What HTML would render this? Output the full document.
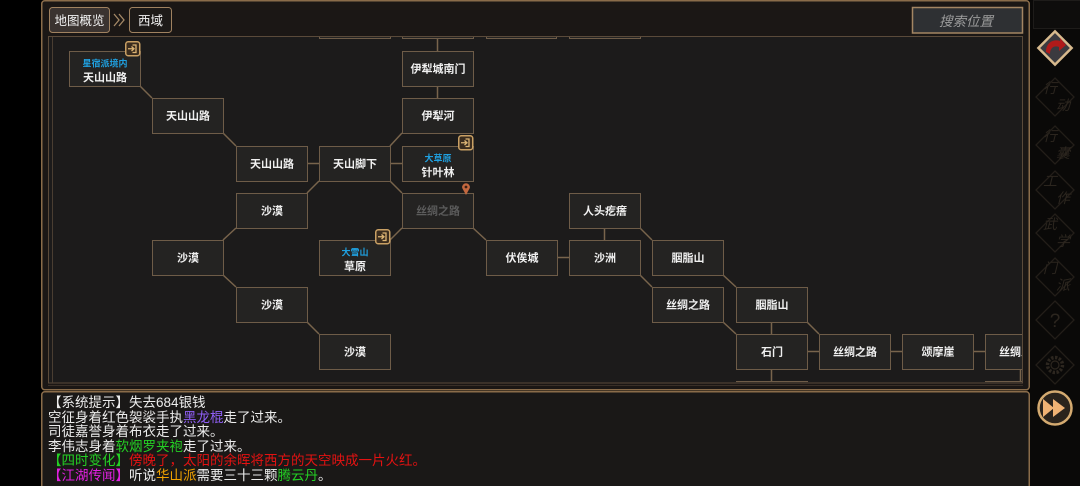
<!DOCTYPE html>
<html><head><meta charset="utf-8">
<style>
html,body{margin:0;padding:0;background:#000;}
body{width:1080px;height:486px;position:relative;overflow:hidden;font-family:"Liberation Sans","Noto Sans CJK SC",sans-serif;}
svg{position:absolute;left:0;top:0;}
#log{position:absolute;left:48px;top:396px;font-size:13.5px;line-height:14.6px;color:#ececec;white-space:nowrap;font-family:"Liberation Sans","Noto Sans CJK SC",sans-serif;}
.pu{color:#8f5ef5}.gr{color:#24d024}.rd{color:#e41212}.mg{color:#e020e0}.or{color:#f0a200}
</style></head><body>
<svg width="1080" height="486" viewBox="0 0 1080 486" xmlns="http://www.w3.org/2000/svg" font-family="Liberation Sans, Noto Sans CJK SC, sans-serif">
<defs>
<clipPath id="mc"><rect x="53" y="37" width="969" height="345"/></clipPath>
</defs>
<!-- main panel -->
<rect x="41.75" y="0.75" width="987.5" height="389" rx="3" fill="#1b1715" stroke="#8a6c4a" stroke-width="1.5"/>
<!-- header buttons -->
<rect x="49.5" y="7.5" width="60" height="25" rx="3" fill="#3a3330" stroke="#a08260" stroke-width="1"/>
<text x="79.5" y="24.8" font-size="12.5" fill="#f2f2f2" text-anchor="middle">地图概览</text>
<polyline points="114,14 119,20 114,26" fill="none" stroke="#a48866" stroke-width="1.3"/>
<polyline points="119,14 124,20 119,26" fill="none" stroke="#a48866" stroke-width="1.3"/>
<rect x="129.5" y="7.5" width="42" height="25" rx="3" fill="#1d1a18" stroke="#a08260" stroke-width="1"/>
<text x="150.5" y="24.8" font-size="12.5" fill="#f2f2f2" text-anchor="middle">西域</text>
<!-- search -->
<rect x="912.5" y="7.5" width="110" height="25.5" fill="#2e3033" stroke="#a38563" stroke-width="1.5"/>
<text x="966" y="26" font-size="13.5" fill="#9c9c9c" text-anchor="middle" font-style="italic">搜索位置</text>
<!-- map area -->
<rect x="48" y="37" width="975" height="346" fill="#1c1b1b"/>
<rect x="48.5" y="36.5" width="974" height="346.5" fill="none" stroke="#5a4a3a" stroke-width="1"/>
<line x1="52.5" y1="37" x2="52.5" y2="383" stroke="#4a3e32" stroke-width="1"/>
<line x1="48" y1="385.5" x2="1023" y2="385.5" stroke="#3a3028" stroke-width="1"/>

<g clip-path="url(#mc)">
<!-- connectors -->
<g stroke="#78644c" stroke-width="1.5" fill="none">
<line x1="140" y1="86" x2="152" y2="98"/>
<line x1="223" y1="133" x2="236" y2="146"/>
<line x1="390" y1="146" x2="402" y2="133"/>
<line x1="319" y1="181" x2="307" y2="193"/>
<line x1="390" y1="181" x2="402" y2="193"/>
<line x1="236" y1="228" x2="223" y2="240"/>
<line x1="223" y1="275" x2="236" y2="287"/>
<line x1="307" y1="322" x2="319" y2="334"/>
<line x1="402" y1="228" x2="390" y2="240"/>
<line x1="473" y1="228" x2="486" y2="240"/>
<line x1="640" y1="228" x2="652" y2="240"/>
<line x1="640" y1="275" x2="652" y2="287"/>
<line x1="723" y1="275" x2="736" y2="287"/>
<line x1="723" y1="322" x2="736" y2="334"/>
<line x1="807" y1="322" x2="819" y2="334"/>
<line x1="307" y1="163.5" x2="319" y2="163.5"/>
<line x1="390" y1="163.5" x2="402" y2="163.5"/>
<line x1="557" y1="257.5" x2="569" y2="257.5"/>
<line x1="807" y1="351.5" x2="819" y2="351.5"/>
<line x1="890" y1="351.5" x2="902" y2="351.5"/>
<line x1="973" y1="351.5" x2="985" y2="351.5"/>
<line x1="437.5" y1="37" x2="437.5" y2="51"/>
<line x1="437.5" y1="86" x2="437.5" y2="98"/>
<line x1="604.5" y1="228" x2="604.5" y2="240"/>
<line x1="771.5" y1="322" x2="771.5" y2="334"/>
<line x1="771.5" y1="369" x2="771.5" y2="381"/>
<line x1="1020.5" y1="369" x2="1020.5" y2="381"/>
</g>
<!-- nodes -->
<g fill="#242322" stroke="#6e5c48" stroke-width="1">
<rect x="319.5" y="3.5" width="71" height="35"/>
<rect x="402.5" y="3.5" width="71" height="35"/>
<rect x="486.5" y="3.5" width="70" height="35"/>
<rect x="569.5" y="3.5" width="71" height="35"/>
<rect x="69.5" y="51.5" width="71" height="35"/>
<rect x="402.5" y="51.5" width="71" height="35"/>
<rect x="152.5" y="98.5" width="71" height="35"/>
<rect x="402.5" y="98.5" width="71" height="35"/>
<rect x="236.5" y="146.5" width="71" height="35"/>
<rect x="319.5" y="146.5" width="71" height="35"/>
<rect x="402.5" y="146.5" width="71" height="35"/>
<rect x="236.5" y="193.5" width="71" height="35"/>
<rect x="402.5" y="193.5" width="71" height="35"/>
<rect x="569.5" y="193.5" width="71" height="35"/>
<rect x="152.5" y="240.5" width="71" height="35"/>
<rect x="319.5" y="240.5" width="71" height="35"/>
<rect x="486.5" y="240.5" width="71" height="35"/>
<rect x="569.5" y="240.5" width="71" height="35"/>
<rect x="652.5" y="240.5" width="71" height="35"/>
<rect x="236.5" y="287.5" width="71" height="35"/>
<rect x="652.5" y="287.5" width="71" height="35"/>
<rect x="736.5" y="287.5" width="71" height="35"/>
<rect x="319.5" y="334.5" width="71" height="35"/>
<rect x="736.5" y="334.5" width="71" height="35"/>
<rect x="819.5" y="334.5" width="71" height="35"/>
<rect x="902.5" y="334.5" width="71" height="35"/>
<rect x="985.5" y="334.5" width="71" height="35"/>
<rect x="736.5" y="381.5" width="71" height="35"/>
<rect x="985.5" y="381.5" width="71" height="35"/>
</g>
<!-- labels -->
<g font-size="11" fill="#f0f0f0" text-anchor="middle" font-weight="bold">
<text x="105" y="81">天山山路</text>
<text x="438" y="72.5">伊犁城南门</text>
<text x="188" y="119.5">天山山路</text>
<text x="438" y="119.5">伊犁河</text>
<text x="272" y="167.5">天山山路</text>
<text x="355" y="167.5">天山脚下</text>
<text x="438" y="176">针叶林</text>
<text x="272" y="214.5">沙漠</text>
<text x="438" y="214.5" fill="#5c5c5c">丝绸之路</text>
<text x="605" y="214.5">人头疙瘩</text>
<text x="188" y="261.5">沙漠</text>
<text x="355" y="270">草原</text>
<text x="522" y="261.5">伏俟城</text>
<text x="605" y="261.5">沙洲</text>
<text x="688" y="261.5">胭脂山</text>
<text x="272" y="308.5">沙漠</text>
<text x="688" y="308.5">丝绸之路</text>
<text x="772" y="308.5">胭脂山</text>
<text x="355" y="355.5">沙漠</text>
<text x="772" y="355.5">石门</text>
<text x="855" y="355.5">丝绸之路</text>
<text x="938" y="355.5">颂摩崖</text>
<text x="1021" y="355.5">丝绸之路</text>
</g>
<g font-size="9" fill="#1fa0e0" text-anchor="middle" font-weight="bold">
<text x="105" y="66.5">星宿派境内</text>
<text x="438" y="161.5">大草原</text>
<text x="355" y="255.5">大雪山</text>
</g>
</g>
<!-- entry icons -->
<g>
<g transform="translate(125,41)">
<rect x="0.75" y="0.75" width="14" height="14" rx="2.5" fill="#3a2c1e" stroke="#c9a064" stroke-width="1.5"/>
<path d="M7.5 4 H11 V11.5 H7.5" fill="none" stroke="#dcb474" stroke-width="1.3"/>
<path d="M3 7.75 H9 M6.5 5.5 L9 7.75 L6.5 10" fill="none" stroke="#dcb474" stroke-width="1.3"/>
</g>
<g transform="translate(458,135)">
<rect x="0.75" y="0.75" width="14" height="14" rx="2.5" fill="#3a2c1e" stroke="#c9a064" stroke-width="1.5"/>
<path d="M7.5 4 H11 V11.5 H7.5" fill="none" stroke="#dcb474" stroke-width="1.3"/>
<path d="M3 7.75 H9 M6.5 5.5 L9 7.75 L6.5 10" fill="none" stroke="#dcb474" stroke-width="1.3"/>
</g>
<g transform="translate(375,229)">
<rect x="0.75" y="0.75" width="14" height="14" rx="2.5" fill="#3a2c1e" stroke="#c9a064" stroke-width="1.5"/>
<path d="M7.5 4 H11 V11.5 H7.5" fill="none" stroke="#dcb474" stroke-width="1.3"/>
<path d="M3 7.75 H9 M6.5 5.5 L9 7.75 L6.5 10" fill="none" stroke="#dcb474" stroke-width="1.3"/>
</g>
</g>
<!-- pin -->
<path d="M462.2 188 A3.9 3.9 0 1 1 469.8 188 L466 195 Z" fill="#c4683f"/>
<circle cx="466" cy="187" r="1.4" fill="#3a1e14"/>

<!-- log panel -->
<rect x="41.75" y="391.75" width="987.5" height="100" rx="3" fill="#1a1817" stroke="#8a6c4a" stroke-width="1.5"/>

<!-- sidebar -->
<rect x="1030" y="0" width="50" height="486" fill="#0a0908"/>
<rect x="1033.5" y="0.5" width="47" height="28" fill="#0e0d0c" stroke="#1e1c1a" stroke-width="1"/>
<!-- active icon -->
<g transform="translate(1055,48)">
<rect x="-13" y="-13" width="26" height="26" transform="rotate(45)" fill="#d8ba8e"/>
<rect x="-10.5" y="-10.5" width="21" height="21" transform="rotate(45)" fill="#3b3a3f"/>
<path d="M-9 4 C-9 -6 -1 -9 5 -7 L5 -10 L11 -3 L4 3 L4 -1 C-1 -3 -5 0 -5 6 Z" fill="#b01a1a"/>
</g>
<g fill="none" stroke="#231e19" stroke-width="1.3">
<polygon points="1055,78 1074,97 1055,116 1036,97"/>
<polygon points="1055,126 1074,145 1055,164 1036,145"/>
<polygon points="1055,171 1074,190 1055,209 1036,190"/>
<polygon points="1055,214 1074,233 1055,252 1036,233"/>
<polygon points="1055,258 1074,277 1055,296 1036,277"/>
<polygon points="1055,301 1074,320 1055,339 1036,320"/>
<polygon points="1055,346 1074,365 1055,384 1036,365"/>
</g>
<g font-size="14" fill="#2c261f" font-style="italic">
<text x="1043" y="93">行</text><text x="1056" y="110">动</text>
<text x="1043" y="141">行</text><text x="1056" y="158">囊</text>
<text x="1043" y="186">工</text><text x="1056" y="203">作</text>
<text x="1043" y="229">武</text><text x="1056" y="246">学</text>
<text x="1043" y="273">门</text><text x="1056" y="290">派</text>
</g>
<text x="1055" y="327" font-size="19" fill="#2c261f" text-anchor="middle">?</text>
<circle cx="1055" cy="365" r="7.5" fill="none" stroke="#2c261f" stroke-width="3.5" stroke-dasharray="2.4 1.5"/>
<circle cx="1055" cy="365" r="4" fill="none" stroke="#2c261f" stroke-width="1.2"/>
<!-- fast forward -->
<circle cx="1055" cy="408" r="16.5" fill="#2a231c" stroke="#d4aa70" stroke-width="2.5"/>
<path d="M1043 399 L1054 408 L1043 417 Z M1053 399 L1065 408 L1053 417 Z" fill="#f0b274"/>
</svg>
<div id="log">【系统提示】失去684银钱<br>空征身着红色袈裟手执<span class="pu">黑龙棍</span>走了过来。<br>司徒嘉誉身着布衣走了过来。<br>李伟志身着<span class="gr">软烟罗夹袍</span>走了过来。<br><span class="gr">【四时变化】</span><span class="rd">傍晚了，太阳的余晖将西方的天空映成一片火红。</span><br><span class="mg">【江湖传闻】</span>听说<span class="or">华山派</span>需要三十三颗<span class="gr">腾云丹</span>。</div>
</body></html>
